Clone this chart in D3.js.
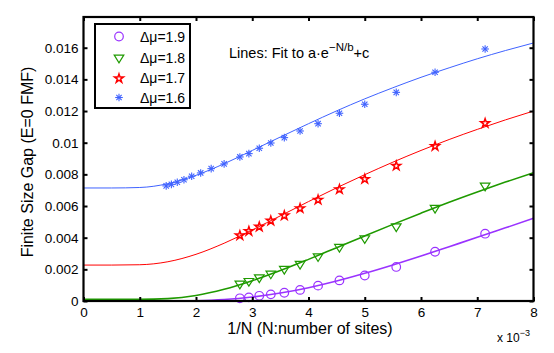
<!DOCTYPE html>
<html>
<head>
<meta charset="utf-8">
<script src="https://cdn.jsdelivr.net/npm/d3@7"></script>
<style>
body { margin: 0; background: #fff; }
text { font-family: "Liberation Sans", Arial, sans-serif; }
</style>
</head>
<body>
<div id="chart"></div>
<script>
// data (1/N in units of 1e-3, gap values)
var seriesNames = ["Δμ=1.9", "Δμ=1.8", "Δμ=1.7", "Δμ=1.6"];
var seriesColors = ["#9a33ff", "#1f9a00", "#ff0000", "#3f62ff"];
var seriesMarkers = ["circle", "triangle", "star", "asterisk"];

var xPts = [2.78, 2.94, 3.125, 3.33, 3.57, 3.85, 4.17, 4.55, 5.0, 5.56, 6.25, 7.14];
var gap19 = [0.00017, 0.00023, 0.00033, 0.00042, 0.00052, 0.00070, 0.00097, 0.00130, 0.00161, 0.00215, 0.00311, 0.00425];
var gap18 = [0.00107, 0.00124, 0.00147, 0.00171, 0.00200, 0.00232, 0.00280, 0.00339, 0.00394, 0.00469, 0.00586, 0.00726];
var gap17 = [0.00417, 0.00444, 0.00472, 0.00510, 0.00543, 0.00588, 0.00642, 0.00708, 0.00773, 0.00857, 0.00981, 0.01126];

var xPts16 = [1.47, 1.5625, 1.667, 1.786, 1.923, 2.083, 2.27, 2.5, 2.78, 2.94, 3.125, 3.33, 3.57, 3.85, 4.17, 4.55, 5.0, 5.56, 6.25, 7.14];
var gap16 = [0.00727, 0.00737, 0.00750, 0.00766, 0.00788, 0.00809, 0.00836, 0.00866, 0.00910, 0.00931, 0.00965, 0.00998, 0.01032, 0.01074, 0.01120, 0.01186, 0.01243, 0.01318, 0.01445, 0.01592];

// fit lines
var xFit = [0, 0.5, 1, 1.5, 2, 2.5, 3, 3.5, 4, 4.5, 5, 5.5, 6, 6.5, 7, 7.5, 8];
var fit19 = [0, 0, 0, 0, 0.00002, 0.00009, 0.00025, 0.00050, 0.00084, 0.00126, 0.00175, 0.00228, 0.00284, 0.00343, 0.00402, 0.00462, 0.00522];
var fit18 = [0.0001, 0.0001, 0.0001, 0.00015, 0.00035, 0.00074, 0.00128, 0.00192, 0.00263, 0.00337, 0.00411, 0.00484, 0.00555, 0.00624, 0.00689, 0.00751, 0.0081];
var fit17 = [0.00227, 0.00227, 0.00229, 0.00248, 0.00295, 0.00365, 0.00449, 0.00538, 0.00628, 0.00715, 0.00798, 0.00877, 0.00951, 0.01020, 0.01084, 0.01144, 0.0120];
var fit16 = [0.00714, 0.00714, 0.00717, 0.00741, 0.00794, 0.00867, 0.00951, 0.01036, 0.01120, 0.01201, 0.01277, 0.01347, 0.01413, 0.01473, 0.01530, 0.01582, 0.0163];

var xTicks = [0, 1, 2, 3, 4, 5, 6, 7, 8];
var yTicks = [0, 0.002, 0.004, 0.006, 0.008, 0.01, 0.012, 0.014, 0.016];

(function() {
var svgWidth = 554, svgHeight = 353;
var pLeft = 83.5, pRight = 533.5, pTop = 17, pBottom = 301;

var svg = d3.select("#chart").append("svg").attr("width", svgWidth).attr("height", svgHeight);

var x = d3.scaleLinear().domain([0, 8]).range([pLeft, pRight]);
var y = d3.scaleLinear().domain([0, 0.01794]).range([pBottom, pTop]);

svg.append("clipPath").attr("id", "clip").append("rect")
	.attr("x", pLeft).attr("y", pTop).attr("width", pRight - pLeft).attr("height", pBottom - pTop);

var plot = svg.append("g").attr("clip-path", "url(#clip)");

var pts = [xPts, xPts, xPts, xPts16];
var gaps = [gap19, gap18, gap17, gap16];
var fits = [fit19, fit18, fit17, fit16];
var lineWidths = [1.6, 1.6, 1, 1];

var line = d3.line().curve(d3.curveMonotoneX)
	.x(function(d) { return x(d[0]); })
	.y(function(d) { return y(d[1]); });

// fit lines
fits.forEach(function(f, i) {
	plot.append("path")
		.datum(xFit.map(function(v, k) { return [v, f[k]]; }))
		.attr("d", line)
		.attr("fill", "none")
		.attr("stroke", seriesColors[i])
		.attr("stroke-width", lineWidths[i]);
});

// marker drawer
function marker(g, type, cx, cy, color) {
	if (type == "circle") {
		g.append("circle").attr("cx", cx).attr("cy", cy).attr("r", 4.3)
			.attr("fill", "none").attr("stroke", color).attr("stroke-width", 1.2);
	} else if (type == "triangle") {
		var s = 4.8;
		g.append("path")
			.attr("d", "M" + (cx - s) + "," + (cy - s * 0.6) + "L" + (cx + s) + "," + (cy - s * 0.6) + "L" + cx + "," + (cy + s) + "Z")
			.attr("fill", "none").attr("stroke", color).attr("stroke-width", 1.2);
	} else if (type == "star") {
		g.append("path")
			.attr("d", d3.symbol().type(d3.symbolStar).size(24)())
			.attr("transform", "translate(" + cx + "," + (cy + 0.5) + ")")
			.attr("fill", "none").attr("stroke", color).attr("stroke-width", 1.5);
	} else {
		var r = 3.8;
		for (var a = 0; a < 4; a++) {
			var ang = a * Math.PI / 4;
			g.append("line")
				.attr("x1", cx - r * Math.cos(ang)).attr("y1", cy - r * Math.sin(ang))
				.attr("x2", cx + r * Math.cos(ang)).attr("y2", cy + r * Math.sin(ang))
				.attr("stroke", color).attr("stroke-width", 1.1);
		}
	}
}

// data markers
gaps.forEach(function(gv, i) {
	var g = svg.append("g");
	gv.forEach(function(v, k) {
		marker(g, seriesMarkers[i], x(pts[i][k]), y(v), seriesColors[i]);
	});
});

// axes box
var xAxisB = d3.axisBottom(x).tickValues(xTicks).tickSize(-4).tickPadding(6).tickFormat(d3.format("d"));
var xAxisT = d3.axisTop(x).tickValues(xTicks).tickSize(-4).tickFormat("");
var yAxisL = d3.axisLeft(y).tickValues(yTicks).tickSize(-4).tickPadding(5).tickFormat(function(d) { return d == 0 ? "0" : String(+d.toFixed(3)); });
var yAxisR = d3.axisRight(y).tickValues(yTicks).tickSize(-4).tickFormat("");

[[xAxisB, "translate(0," + pBottom + ")"], [xAxisT, "translate(0," + pTop + ")"],
 [yAxisL, "translate(" + pLeft + ",0)"], [yAxisR, "translate(" + pRight + ",0)"]].forEach(function(a) {
	var g = svg.append("g").attr("transform", a[1]).call(a[0]);
	g.select(".domain").remove();
	g.selectAll(".tick line").attr("stroke", "#000").attr("stroke-width", 2);
	g.selectAll("text").attr("font-size", 13.5).attr("fill", "#000")
		.attr("font-family", "'Liberation Sans', Arial, sans-serif");
});

svg.append("rect")
	.attr("x", pLeft).attr("y", pTop).attr("width", pRight - pLeft).attr("height", pBottom - pTop)
	.attr("fill", "none").attr("stroke", "#000").attr("stroke-width", 2.2);

// legend
var legend = svg.append("g");
legend.append("rect").attr("x", 95).attr("y", 24).attr("width", 95).attr("height", 84)
	.attr("fill", "#fff").attr("stroke", "#000").attr("stroke-width", 2);
var legY = [36.5, 58, 78, 97.5];
seriesNames.forEach(function(n, i) {
	marker(legend, seriesMarkers[i], 119, legY[i], seriesColors[i]);
	legend.append("text").attr("x", 140).attr("y", legY[i]).attr("dy", ".36em")
		.attr("font-size", 14).text(n);
});

// annotation
var ann = svg.append("text").attr("x", 229).attr("y", 58).attr("font-size", 14.5);
ann.append("tspan").text("Lines: Fit to a·e");
ann.append("tspan").attr("dy", -7).attr("font-size", 11.5).text("−N/b");
ann.append("tspan").attr("dy", 7).text("+c");

// axis labels
svg.append("text").attr("x", 310).attr("y", 334).attr("text-anchor", "middle")
	.attr("font-size", 16).text("1/N (N:number of sites)");

var ex = svg.append("text").attr("x", 497).attr("y", 342).attr("font-size", 12);
ex.append("tspan").text("x 10");
ex.append("tspan").attr("dy", -6).attr("font-size", 9).text("−3");

svg.append("text").attr("transform", "translate(33,162) rotate(-90)").attr("text-anchor", "middle")
	.attr("font-size", 16).text("Finite Size Gap (E=0 FMF)");
})();
</script>
</body>
</html>
